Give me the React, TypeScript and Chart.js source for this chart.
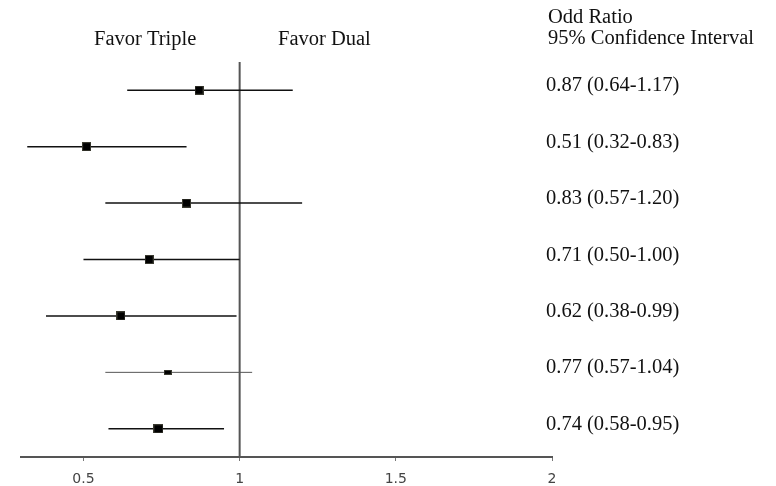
import React, { useEffect, useRef } from "react";
import { Chart, registerables } from "chart.js";

Chart.register(...registerables);

// Odds ratios and 95% confidence intervals (top row first)
const oddsRatio = [0.87, 0.51, 0.83, 0.71, 0.62, 0.77, 0.74];
const ciLower = [0.64, 0.32, 0.57, 0.5, 0.38, 0.57, 0.58];
const ciUpper = [1.17, 0.83, 1.2, 1.0, 0.99, 1.04, 0.95];
const xTicks = [0.5, 1, 1.5, 2];
const favorLabels = ["Favor Triple", "Favor Dual"];
const headerLines = ["Odd Ratio", "95% Confidence Interval"];

// marker styling per row (width, height in px), line styling per row
const markerW = [9, 9, 9, 9, 9, 8, 10];
const markerH = [9, 9, 9, 9, 9, 5, 9];
const lineWidths = [1.5, 1.5, 1.5, 1.5, 1.5, 1, 1.5];
const lineColors = ["#111", "#111", "#111", "#111", "#111", "#555", "#111"];

const SERIF = '"Liberation Serif", "Times New Roman", serif';

export default function App() {
  const ref = useRef<HTMLCanvasElement | null>(null);

  useEffect(() => {
    if (!ref.current) return;
    const n = oddsRatio.length;
    const rowY = (i: number) => n - i;

    const markers = markerW.map((w, i) => {
      const c = document.createElement("canvas");
      c.width = w;
      c.height = markerH[i];
      const g = c.getContext("2d")!;
      g.fillStyle = "#3a3a30";
      g.fillRect(0, 0, w, markerH[i]);
      g.fillStyle = "#000";
      g.fillRect(1, 1, w - 2, markerH[i] - 2);
      return c;
    });

    const datasets: any[] = [];
    datasets.push({
      label: "OR",
      data: oddsRatio.map((v, i) => ({ x: v, y: rowY(i) })),
      pointStyle: markers,
      pointRadius: 5,
      showLine: false,
    });
    oddsRatio.forEach((_, i) => {
      datasets.push({
        label: "CI " + (i + 1),
        data: [
          { x: ciLower[i], y: rowY(i) },
          { x: ciUpper[i], y: rowY(i) },
        ],
        showLine: true,
        borderColor: lineColors[i],
        borderWidth: lineWidths[i],
        pointRadius: 0,
      });
    });
    datasets.push({
      label: "ref",
      data: [
        { x: 1, y: n + 0.5 },
        { x: 1, y: 0.5 },
      ],
      showLine: true,
      borderColor: "#555",
      borderWidth: 2,
      pointRadius: 0,
      clip: false,
    });

    const textPlugin = {
      id: "forestText",
      afterDraw(chart: any) {
        const ctx = chart.ctx;
        const ys = chart.scales.y;
        ctx.save();
        ctx.fillStyle = "#111";
        ctx.font = "20.5px " + SERIF;
        ctx.textAlign = "left";
        ctx.textBaseline = "alphabetic";
        ctx.fillText(favorLabels[0], 94, 45);
        ctx.fillText(favorLabels[1], 278, 45);
        ctx.fillText(headerLines[0], 548, 23);
        ctx.fillText(headerLines[1], 548, 44);
        oddsRatio.forEach((v, i) => {
          const t = `${v.toFixed(2)} (${ciLower[i].toFixed(2)}-${ciUpper[i].toFixed(2)})`;
          ctx.fillText(t, 546, ys.getPixelForValue(rowY(i)) + 1);
        });
        ctx.restore();
      },
    };

    const chart = new Chart(ref.current, {
      type: "scatter",
      data: { datasets },
      options: {
        animation: false,
        responsive: false,
        devicePixelRatio: 1,
        layout: { padding: { left: 21, right: 224, top: 62, bottom: 0 } },
        plugins: {
          legend: { display: false },
          tooltip: { enabled: false },
          title: { display: false },
        },
        scales: {
          x: {
            type: "linear",
            min: 0.3,
            max: 2,
            afterBuildTicks(scale: any) {
              scale.ticks = xTicks.map((v) => ({ value: v }));
            },
            afterFit(scale: any) {
              scale.height = 29;
            },
            grid: {
              display: true,
              drawOnChartArea: false,
              drawTicks: true,
              tickLength: 4,
              color: "#777",
              lineWidth: 1,
            },
            border: { display: true, color: "#555", width: 2 },
            ticks: {
              padding: 10,
              color: "#444",
              font: { family: '"DejaVu Sans", sans-serif', size: 14 },
              callback: (v: any) => String(v),
            },
          },
          y: {
            type: "linear",
            display: false,
            min: 0.5,
            max: n + 0.5,
          },
        },
      },
      plugins: [textPlugin],
    });
    return () => chart.destroy();
  }, []);

  return (
    <div style={{ position: "fixed", left: 0, top: 0, width: 776, height: 486, background: "#fff" }}>
      <canvas ref={ref} width={776} height={486} />
    </div>
  );
}
